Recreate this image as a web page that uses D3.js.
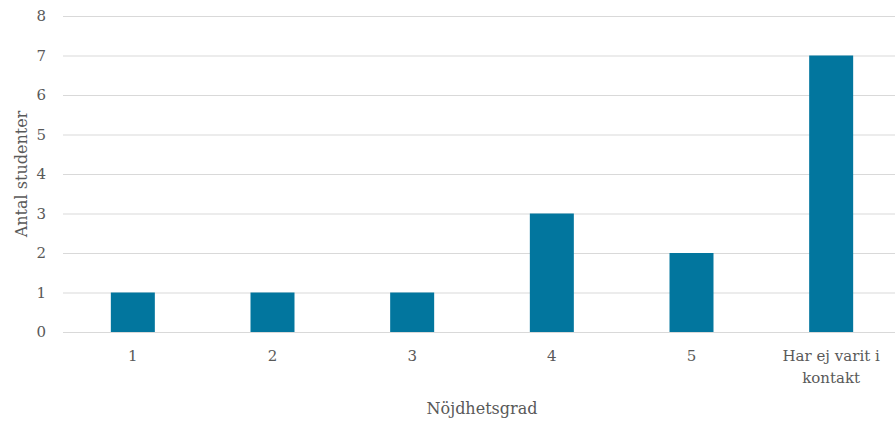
<!DOCTYPE html>
<html>
<head>
<meta charset="utf-8">
<script src="https://cdn.jsdelivr.net/npm/d3@7"></script>
<style>
  body { margin: 0; background: #fff; }
  text { font-family: "DejaVu Serif", serif; fill: #595959; }
</style>
</head>
<body>
<script>
var categories = ['1', '2', '3', '4', '5', 'Har ej varit i|kontakt']
var values = [1, 1, 1, 3, 2, 7]
var yTicks = [0, 1, 2, 3, 4, 5, 6, 7, 8]

var W = 895, H = 421
var svg = d3.select('body').append('svg').attr('width', W).attr('height', H)

var x = d3.scaleBand().domain(categories).range([63, 901]).paddingInner(0.685).paddingOuter(0.3425)
var y = d3.scaleLinear().domain([0, 8]).range([332, 16])

svg.append('g').selectAll('line').data(yTicks).join('line')
  .attr('x1', 63).attr('x2', W)
  .attr('y1', function(d){ return y(d) + 0.5 }).attr('y2', function(d){ return y(d) + 0.5 })
  .attr('stroke', '#d9d9d9').attr('stroke-width', 1)

svg.append('g').selectAll('text').data(yTicks).join('text')
  .attr('x', 46).attr('y', function(d){ return y(d) })
  .attr('dy', '0.35em').attr('text-anchor', 'end')
  .style('font-size', '15px')
  .text(function(d){ return d })

svg.append('g').selectAll('rect').data(values).join('rect')
  .attr('x', function(d, i){ return x(categories[i]) })
  .attr('width', x.bandwidth())
  .attr('y', function(d){ return y(d) })
  .attr('height', function(d){ return y(0) - y(d) })
  .attr('fill', '#02769e')

var xl = svg.append('g').selectAll('text').data(categories).join('text')
  .attr('x', function(d){ return x(d) + x.bandwidth() / 2 })
  .attr('y', 361).attr('text-anchor', 'middle')
  .style('font-size', '15px')
xl.each(function(d){
  var t = d3.select(this)
  d.split('|').forEach(function(s, i){
    t.append('tspan').attr('x', t.attr('x')).attr('dy', i ? 22 : 0).text(s)
  })
})

svg.append('text').attr('x', 482).attr('y', 414).attr('text-anchor', 'middle')
  .style('font-size', '16px').text('Nöjdhetsgrad')

svg.append('text').attr('transform', 'translate(27,174) rotate(-90)').attr('text-anchor', 'middle')
  .style('font-size', '16px').text('Antal studenter')
</script>
</body>
</html>
